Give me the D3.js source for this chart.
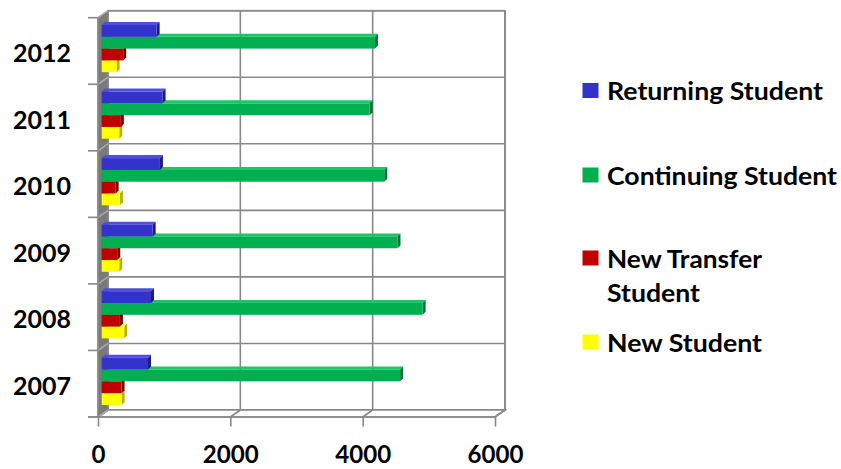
<!DOCTYPE html>
<html>
<head>
<meta charset="utf-8">
<script src="https://cdn.jsdelivr.net/npm/d3@7/dist/d3.min.js"></script>
<style>
  html, body { margin: 0; padding: 0; background: #fff; }
  svg { display: block; }
  text { font-family: Lato, "Open Sans", sans-serif; font-weight: bold; fill: #000; }
</style>
</head>
<body>
<svg id="chart" width="841" height="469"></svg>
<script>
// ---- data ----
const years = ["2007", "2008", "2009", "2010", "2011", "2012"];
const seriesNames = ["Returning Student", "Continuing Student", "New Transfer Student", "New Student"];
const returning  = [700, 745, 770, 880, 920, 830];
const continuing = [4510, 4850, 4470, 4270, 4050, 4130];
const newTransfer = [300, 275, 235, 210, 290, 325];
const newStudent = [300, 340, 265, 275, 265, 225];
const xTicks = [0, 2000, 4000, 6000];
const legendLines = [["Returning Student"], ["Continuing Student"], ["New Transfer", "Student"], ["New Student"]];

// ---- styles ----
const colors = {
  "Returning Student":   {front: "#3333cc", top: "#4f4fdb", side: "#1c1c80"},
  "Continuing Student":  {front: "#00b050", top: "#1fc466", side: "#007533"},
  "New Transfer Student":{front: "#c00000", top: "#d42020", side: "#7a0000"},
  "New Student":         {front: "#ffff00", top: "#ffff66", side: "#b3b300"}
};
const gridColor = "#888888";
const DX = 10, DY = -7;       // wall depth
const BDX = 3, BDY = -3;      // bar depth
const BAR_SHIFT = 3.7;        // bar front face offset into depth

const svg = d3.select("#chart");

const x = d3.scaleLinear().domain([0, 6000]).range([98, 495]);
const y = d3.scaleBand().domain(years.slice().reverse()).range([17.7, 417]).padding(0);
const inner = d3.scaleBand().domain(seriesNames).range([7.3, 7.3 + 47.2]).padding(0);

const valuesBySeries = {
  "Returning Student": returning,
  "Continuing Student": continuing,
  "New Transfer Student": newTransfer,
  "New Student": newStudent
};

const yTop = y.range()[0], yBot = y.range()[1];
const x0 = x(0), x1 = x(6000);

// back wall (white) with border
const g = svg.append("g");
g.append("rect")
  .attr("x", x0 + DX).attr("y", yTop + DY)
  .attr("width", x1 - x0).attr("height", yBot - yTop)
  .attr("fill", "#fff").attr("stroke", gridColor).attr("stroke-width", 1.6);

// back wall vertical gridlines
xTicks.forEach(t => {
  g.append("line")
    .attr("x1", x(t) + DX).attr("x2", x(t) + DX)
    .attr("y1", yTop + DY).attr("y2", yBot + DY)
    .attr("stroke", gridColor).attr("stroke-width", 1.6);
});

// back wall horizontal gridlines at category boundaries
const bounds = years.slice().reverse().map(d => y(d)).concat([yBot]);
bounds.forEach(b => {
  g.append("line")
    .attr("x1", x0 + DX).attr("x2", x1 + DX)
    .attr("y1", b + DY).attr("y2", b + DY)
    .attr("stroke", gridColor).attr("stroke-width", 1.6);
});

// floor
g.append("polygon")
  .attr("points", [[x0, yBot], [x0 + DX, yBot + DY], [x1 + DX, yBot + DY], [x1, yBot]].map(p => p.join(",")).join(" "))
  .attr("fill", "#fff").attr("stroke", gridColor).attr("stroke-width", 1.6);
xTicks.forEach(t => {
  g.append("line")
    .attr("x1", x(t)).attr("y1", yBot)
    .attr("x2", x(t) + DX).attr("y2", yBot + DY)
    .attr("stroke", gridColor).attr("stroke-width", 1.6);
});

// left wall
g.append("polygon")
  .attr("points", [[x0, yBot], [x0, yTop], [x0 + DX, yTop + DY], [x0 + DX, yBot + DY]].map(p => p.join(",")).join(" "))
  .attr("fill", "#7a7a7a").attr("stroke", "#8c8c8c").attr("stroke-width", 1);
bounds.forEach(b => {
  g.append("line")
    .attr("x1", x0).attr("y1", b)
    .attr("x2", x0 + DX).attr("y2", b + DY)
    .attr("stroke", "#a8a8a8").attr("stroke-width", 1.6);
});

// bars (drawn bottom-up so upper bars cover the top faces of lower ones)
const barsG = svg.append("g");
years.forEach((yr, i) => {
  seriesNames.slice().reverse().forEach(s => {
    const v = valuesBySeries[s][i];
    const c = colors[s];
    const bx0 = x(0) + BAR_SHIFT;
    const bx1 = x(v) + BAR_SHIFT;
    const by = y(yr) + inner(s);
    const bh = inner.bandwidth();
    barsG.append("polygon")
      .attr("points", [[bx0, by], [bx1, by], [bx1 + BDX, by + BDY], [bx0 + BDX, by + BDY]].map(p => p.join(",")).join(" "))
      .attr("fill", c.top);
    barsG.append("polygon")
      .attr("points", [[bx1, by], [bx1, by + bh], [bx1 + BDX, by + bh + BDY], [bx1 + BDX, by + BDY]].map(p => p.join(",")).join(" "))
      .attr("fill", c.side);
    barsG.append("rect")
      .attr("x", bx0).attr("y", by)
      .attr("width", bx1 - bx0).attr("height", bh)
      .attr("fill", c.front);
  });
});

// front axes: bottom
const xAxis = d3.axisBottom(x).tickValues(xTicks).tickSize(9.5).tickPadding(19).tickFormat(d3.format("d"));
const xAxisG = svg.append("g").attr("transform", `translate(0,${yBot})`).call(xAxis);
xAxisG.select(".domain").attr("stroke", gridColor).attr("stroke-width", 1.6)
  .attr("d", `M${x0 - 10},0H${x1}`);
xAxisG.selectAll(".tick line").attr("stroke", gridColor).attr("stroke-width", 1.6);
xAxisG.selectAll(".tick text")
  .style("font-family", "Lato, 'Open Sans', sans-serif").style("font-weight", "bold")
  .style("font-size", "25px").attr("fill", "#000")
  .each(function(d) {
    const w = String(d).length * 14;
    d3.select(this).attr("textLength", w).attr("lengthAdjust", "spacingAndGlyphs");
  });

// left axis
svg.append("line").attr("x1", x0).attr("x2", x0).attr("y1", yTop).attr("y2", yBot)
  .attr("stroke", gridColor).attr("stroke-width", 1.6);
bounds.forEach(b => {
  svg.append("line").attr("x1", x0 - 10).attr("x2", x0).attr("y1", b).attr("y2", b)
    .attr("stroke", gridColor).attr("stroke-width", 1.6);
});
years.forEach(yr => {
  svg.append("text")
    .attr("x", 71).attr("y", y(yr) + y.bandwidth() / 2 + 1)
    .attr("text-anchor", "end").attr("dominant-baseline", "central")
    .attr("textLength", 58).attr("lengthAdjust", "spacingAndGlyphs")
    .style("font-size", "25px")
    .text(yr);
});

// legend
const legendCenters = [90.5, 175, 258, 342];
const legendWidths = [[216], [230], [155, 93], [155]];
const lg = svg.append("g");
seriesNames.forEach((s, i) => {
  const cy = legendCenters[i];
  lg.append("rect").attr("x", 582.5).attr("y", cy - 7.5).attr("width", 16).attr("height", 15)
    .attr("fill", colors[s].front);
  legendLines[i].forEach((line, j) => {
    lg.append("text")
      .attr("x", 607).attr("y", cy + j * 34.5)
      .attr("dominant-baseline", "central")
      .attr("textLength", legendWidths[i][j]).attr("lengthAdjust", "spacingAndGlyphs")
      .style("font-size", "24px").style("font-weight", "bold")
      .text(line);
  });
});
</script>
</body>
</html>
